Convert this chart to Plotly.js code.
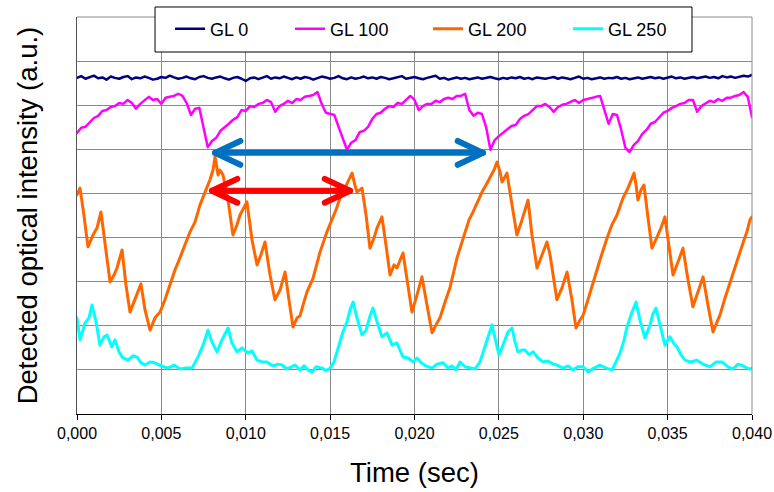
<!DOCTYPE html>
<html>
<head>
<meta charset="utf-8">
<script src="https://cdn.plot.ly/plotly-3.0.1.min.js"></script>
<style>
html,body{margin:0;padding:0;background:#fff;}
#chart{width:774px;height:492px;}
.scatterlayer .js-line{stroke-linejoin:round;stroke-linecap:round;}
</style>
</head>
<body>
<div id="chart"></div>
<script>
// ---- series names ----
const seriesNames = ["GL 0", "GL 100", "GL 200", "GL 250"];

// ---- uniformly sampled traces (start 0 s, step 0.00025 s) ----
const sampleStart = 0;
const sampleStep = 0.00025;

const gl0 = [
7.62,7.66,7.60,7.64,7.67,7.61,7.63,7.58,7.65,7.62,
7.60,7.64,7.66,7.59,7.63,7.61,7.65,7.62,7.58,7.60,
7.64,7.62,7.67,7.63,7.60,7.62,7.65,7.61,7.59,7.64,
7.66,7.62,7.60,7.63,7.65,7.61,7.58,7.62,7.64,7.60,
7.55,7.61,7.63,7.59,7.62,7.66,7.60,7.63,7.61,7.65,
7.62,7.59,7.63,7.60,7.64,7.62,7.58,7.61,7.65,7.63,
7.60,7.62,7.66,7.61,7.59,7.63,7.60,7.62,7.65,7.61,
7.63,7.60,7.64,7.62,7.59,7.61,7.63,7.66,7.60,7.62,
7.64,7.61,7.59,7.62,7.65,7.67,7.60,7.62,7.58,7.61,
7.63,7.60,7.62,7.59,7.61,7.63,7.60,7.62,7.64,7.61,
7.59,7.62,7.60,7.63,7.61,7.64,7.60,7.62,7.59,7.63,
7.61,7.60,7.62,7.64,7.60,7.63,7.61,7.59,7.62,7.65,
7.60,7.62,7.59,7.61,7.63,7.60,7.62,7.61,7.64,7.60,
7.62,7.59,7.61,7.63,7.60,7.62,7.64,7.61,7.63,7.60,
7.62,7.65,7.61,7.63,7.60,7.62,7.64,7.61,7.63,7.65,
7.62,7.64,7.61,7.66,7.63,7.65,7.62,7.64,7.67,7.65,
7.69
];

const gl100 = [
6.37,6.49,6.51,6.62,6.71,6.76,6.87,6.89,6.96,6.98,
7.05,7.03,7.12,7.05,6.92,7.03,7.12,7.19,7.12,7.14,
7.03,7.17,7.19,7.21,7.26,7.21,7.05,6.78,6.92,6.94,
6.49,6.05,6.19,6.26,6.42,6.49,6.58,6.67,6.73,6.89,
6.87,6.98,6.96,7.03,7.05,7.12,7.07,6.85,6.98,7.03,
7.10,7.05,7.14,7.12,7.19,7.21,7.23,7.30,7.03,6.83,
6.80,6.78,6.51,6.26,5.99,6.15,6.21,6.39,6.42,6.51,
6.69,6.80,6.83,6.92,6.98,6.96,7.05,7.03,7.12,7.21,
7.12,6.89,6.98,7.03,7.03,7.10,7.07,7.14,7.17,7.14,
7.21,7.21,7.26,6.89,6.76,6.83,6.80,6.49,5.99,6.21,
6.30,6.37,6.44,6.53,6.55,6.69,6.76,6.80,6.89,6.98,
6.98,7.03,6.96,6.85,6.96,7.01,7.03,7.07,7.12,7.05,
7.12,7.14,7.17,7.19,7.21,6.89,6.58,6.80,6.78,6.44,
6.03,5.94,6.10,6.19,6.35,6.44,6.58,6.62,6.73,6.83,
6.87,6.94,6.98,7.03,7.05,7.12,7.12,6.85,6.98,7.05,
7.10,7.07,7.14,7.10,7.17,7.17,7.21,7.23,7.30,7.19,
6.73
];

// ---- irregularly sampled traces ----
const gl200Time = [
0,0.00018,0.00041,0.00065,0.00095,0.00119,0.00142,0.00166,0.00196,0.00219,
0.00237,0.00267,0.00290,0.00314,0.00344,0.00379,0.00403,0.00433,0.00462,0.00492,
0.00521,0.00551,0.00581,0.00610,0.00640,0.00670,0.00699,0.00729,0.00759,0.00788,
0.00806,0.00818,0.00836,0.00847,0.00865,0.00895,0.00924,0.00948,0.00966,0.00990,
0.01007,0.01037,0.01067,0.01090,0.01114,0.01144,0.01173,0.01203,0.01233,0.01256,
0.01280,0.01304,0.01321,0.01345,0.01363,0.01399,0.01440,0.01481,0.01517,0.01535,
0.01559,0.01582,0.01600,0.01630,0.01647,0.01659,0.01689,0.01713,0.01736,0.01760,
0.01778,0.01807,0.01831,0.01855,0.01879,0.01896,0.01932,0.01962,0.01985,0.02015,
0.02044,0.02074,0.02104,0.02127,0.02151,0.02181,0.02210,0.02252,0.02276,0.02299,
0.02323,0.02347,0.02376,0.02400,0.02424,0.02447,0.02471,0.02489,0.02507,0.02519,
0.02548,0.02578,0.02607,0.02637,0.02673,0.02696,0.02726,0.02756,0.02785,0.02803,
0.02827,0.02844,0.02874,0.02904,0.02933,0.02957,0.02981,0.02999,0.03028,0.03058,
0.03099,0.03141,0.03170,0.03200,0.03236,0.03265,0.03283,0.03301,0.03313,0.03324,
0.03342,0.03360,0.03384,0.03407,0.03437,0.03461,0.03484,0.03508,0.03532,0.03562,
0.03591,0.03621,0.03650,0.03680,0.03710,0.03739,0.03769,0.03793,0.03810,0.03840,
0.03870,0.03899,0.03929,0.03953,0.03970,0.03988,0.04000
];
const gl200 = [
4.97,5.12,4.51,3.79,4.06,4.22,4.58,3.83,2.99,3.15,
3.31,3.72,2.93,2.31,2.59,2.95,2.36,1.90,2.18,2.31,
2.59,2.93,3.27,3.54,3.83,4.13,4.35,4.74,5.03,5.31,
5.53,5.83,5.42,5.53,5.42,4.85,4.06,4.29,4.51,4.67,
4.81,3.95,3.38,3.61,3.90,3.15,2.59,2.81,3.22,2.59,
1.97,2.18,2.22,2.54,2.77,3.08,3.67,4.13,4.44,4.63,
4.90,5.08,5.24,5.46,5.19,5.03,5.12,4.51,3.76,3.99,
4.22,4.47,3.83,3.15,3.38,3.31,3.65,2.93,2.31,2.70,
3.11,2.47,1.84,2.02,2.18,2.54,2.86,3.54,3.83,4.13,
4.40,4.58,4.85,5.03,5.19,5.35,5.53,5.71,5.49,5.26,
5.46,4.74,4.06,4.40,4.85,4.06,3.31,3.61,3.90,3.61,
3.04,2.59,2.86,3.22,2.59,1.95,2.13,2.24,2.59,2.99,
3.49,3.99,4.29,4.51,4.90,5.12,5.31,5.46,5.19,4.85,
5.08,5.19,4.44,3.76,4.01,4.22,4.47,3.83,3.15,3.45,
3.76,3.04,2.43,2.77,3.11,2.47,1.86,2.09,2.24,2.63,
2.99,3.31,3.67,3.95,4.13,4.40,4.47
];

const gl250Time = [
0,0.00018,0.00047,0.00071,0.00089,0.00113,0.00136,0.00160,0.00178,0.00207,
0.00225,0.00249,0.00267,0.00302,0.00332,0.00356,0.00379,0.00403,0.00433,0.00462,
0.00498,0.00539,0.00575,0.00610,0.00640,0.00681,0.00717,0.00747,0.00776,0.00800,
0.00830,0.00859,0.00895,0.00918,0.00948,0.00978,0.01013,0.01037,0.01067,0.01096,
0.01126,0.01161,0.01191,0.01215,0.01244,0.01268,0.01292,0.01321,0.01345,0.01369,
0.01393,0.01416,0.01452,0.01476,0.01499,0.01523,0.01547,0.01576,0.01600,0.01618,
0.01636,0.01659,0.01689,0.01713,0.01736,0.01754,0.01778,0.01807,0.01837,0.01867,
0.01896,0.01932,0.01962,0.01991,0.02015,0.02039,0.02068,0.02104,0.02133,0.02169,
0.02199,0.02222,0.02246,0.02270,0.02299,0.02329,0.02359,0.02388,0.02412,0.02436,
0.02459,0.02483,0.02501,0.02524,0.02554,0.02578,0.02596,0.02613,0.02637,0.02655,
0.02679,0.02702,0.02732,0.02761,0.02791,0.02821,0.02844,0.02880,0.02910,0.02939,
0.02969,0.02999,0.03028,0.03064,0.03099,0.03135,0.03170,0.03194,0.03218,0.03242,
0.03259,0.03289,0.03313,0.03336,0.03366,0.03396,0.03413,0.03431,0.03455,0.03484,
0.03502,0.03514,0.03538,0.03556,0.03579,0.03603,0.03633,0.03674,0.03710,0.03751,
0.03787,0.03822,0.03858,0.03887,0.03917,0.03947,0.03970,0.03988,0.04000
];
const gl250 = [
2.18,1.68,2.06,2.18,2.47,2.09,1.56,1.75,1.79,1.52,
1.68,1.41,1.29,1.22,1.32,1.29,1.16,1.11,1.18,1.16,
1.09,1.04,1.11,1.02,1.04,1.04,1.29,1.56,1.90,1.63,
1.41,1.68,1.95,1.61,1.41,1.50,1.38,1.43,1.22,1.18,
1.18,1.09,1.13,1.11,1.02,1.07,1.11,1.00,1.09,1.00,
0.95,1.07,1.04,0.98,1.04,1.18,1.50,1.86,2.09,2.36,
2.54,2.18,1.79,1.90,2.22,2.40,2.09,1.75,1.84,1.56,
1.61,1.29,1.27,1.18,1.27,1.16,1.09,1.04,1.13,1.16,
1.04,1.09,1.00,1.18,1.07,1.04,1.02,1.18,1.45,1.77,
2.02,1.63,1.34,1.56,1.86,1.95,1.63,1.41,1.45,1.45,
1.34,1.41,1.27,1.18,1.20,1.13,1.11,1.04,1.09,1.00,
1.07,1.07,0.95,1.04,1.11,1.04,1.00,1.18,1.38,1.68,
1.97,2.31,2.54,2.13,1.72,2.02,2.27,2.40,2.02,1.56,
1.68,1.75,1.59,1.52,1.34,1.22,1.18,1.22,1.13,1.07,
1.18,1.18,1.07,1.02,1.13,1.09,1.04,1.02,1.04
];

// ---- period arrows (time of each tip, level) ----
const blueArrowTime = [0.00818, 0.02406];
const blueArrowLevel = 5.92;
const redArrowTime = [0.00800, 0.01618];
const redArrowLevel = 5.06;

// ---- axis ticks ----
const xTickValues = [0, 0.005, 0.010, 0.015, 0.020, 0.025, 0.030, 0.035, 0.040];

// ---- style ----
const colors = ["#000080", "#FF00FF", "#FF6600", "#00FFFF"];
const headDx = 0.00150, headDy = 0.27;

function arrowTrace(t, level, color) {
  const a = t[0], b = t[1];
  return {
    type: "scatter", mode: "lines", showlegend: false, hoverinfo: "skip",
    x: [a + headDx, a, a + headDx, null, a, b, null, b - headDx, b, b - headDx],
    y: [level + headDy, level, level - headDy, null, level, level, null, level + headDy, level, level - headDy],
    line: {color: color, width: 6}
  };
}

const traces = [
  {type: "scatter", mode: "lines", name: seriesNames[0], x0: sampleStart, dx: sampleStep, y: gl0,
   line: {color: colors[0], width: 2.5}, legendwidth: 75},
  {type: "scatter", mode: "lines", name: seriesNames[1], x0: sampleStart, dx: sampleStep, y: gl100,
   line: {color: colors[1], width: 2.5}, legendwidth: 93},
  {type: "scatter", mode: "lines", name: seriesNames[2], x: gl200Time, y: gl200,
   line: {color: colors[2], width: 3}, legendwidth: 95},
  {type: "scatter", mode: "lines", name: seriesNames[3], x: gl250Time, y: gl250,
   line: {color: colors[3], width: 3}, legendwidth: 60},
  arrowTrace(blueArrowTime, blueArrowLevel, "#0070C0"),
  arrowTrace(redArrowTime, redArrowLevel, "#FF0000")
];

const layout = {
  width: 774, height: 492,
  margin: {l: 77, r: 22, t: 17, b: 78, pad: 0, autoexpand: false},
  paper_bgcolor: "#ffffff", plot_bgcolor: "#ffffff",
  separators: ", ",
  font: {family: "Liberation Sans, Arial, sans-serif", color: "#000000"},
  showlegend: true,
  legend: {
    orientation: "h", x: 0.1378, xanchor: "left", y: 0.9698, yanchor: "middle",
    bgcolor: "rgba(0,0,0,0)", borderwidth: 0, font: {size: 18, color: "#000"},
    traceorder: "normal"
  },
  xaxis: {
    range: [0, 0.040], tickvals: xTickValues, tickformat: ".3f",
    showgrid: true, gridcolor: "#8a8a8a", gridwidth: 1,
    showline: true, linecolor: "#000000", linewidth: 1,
    ticks: "outside", ticklen: 5, tickcolor: "#000000",
    tickfont: {size: 16, color: "#000"}, zeroline: false,
    title: {text: "Time (sec)", font: {size: 27.5, color: "#000"}, standoff: 21}
  },
  yaxis: {
    range: [0, 9], dtick: 1, tick0: 0, showticklabels: false,
    showgrid: true, gridcolor: "#8a8a8a", gridwidth: 1,
    showline: true, linecolor: "#555555", linewidth: 1, zeroline: false,
    ticks: "",
    title: {text: "Detected optical intensity (a.u.)", font: {size: 27.5, color: "#000"}, standoff: 30}
  },
  shapes: [
    {type: "line", xref: "paper", yref: "paper", x0: 1, x1: 1, y0: 0, y1: 1,
     line: {color: "#8a8a8a", width: 1}},
    {type: "line", xref: "paper", yref: "paper", x0: 0, x1: 1, y0: 1, y1: 1,
     line: {color: "#8a8a8a", width: 1}},
    {type: "rect", xref: "paper", yref: "paper", layer: "above",
     x0: 0.1156, x1: 0.9111, y0: 0.9118, y1: 1.0252,
     fillcolor: "#ffffff", line: {color: "#000000", width: 1}}
  ]
};

Plotly.newPlot("chart", traces, layout, {staticPlot: true, displayModeBar: false});
</script>
</body>
</html>
